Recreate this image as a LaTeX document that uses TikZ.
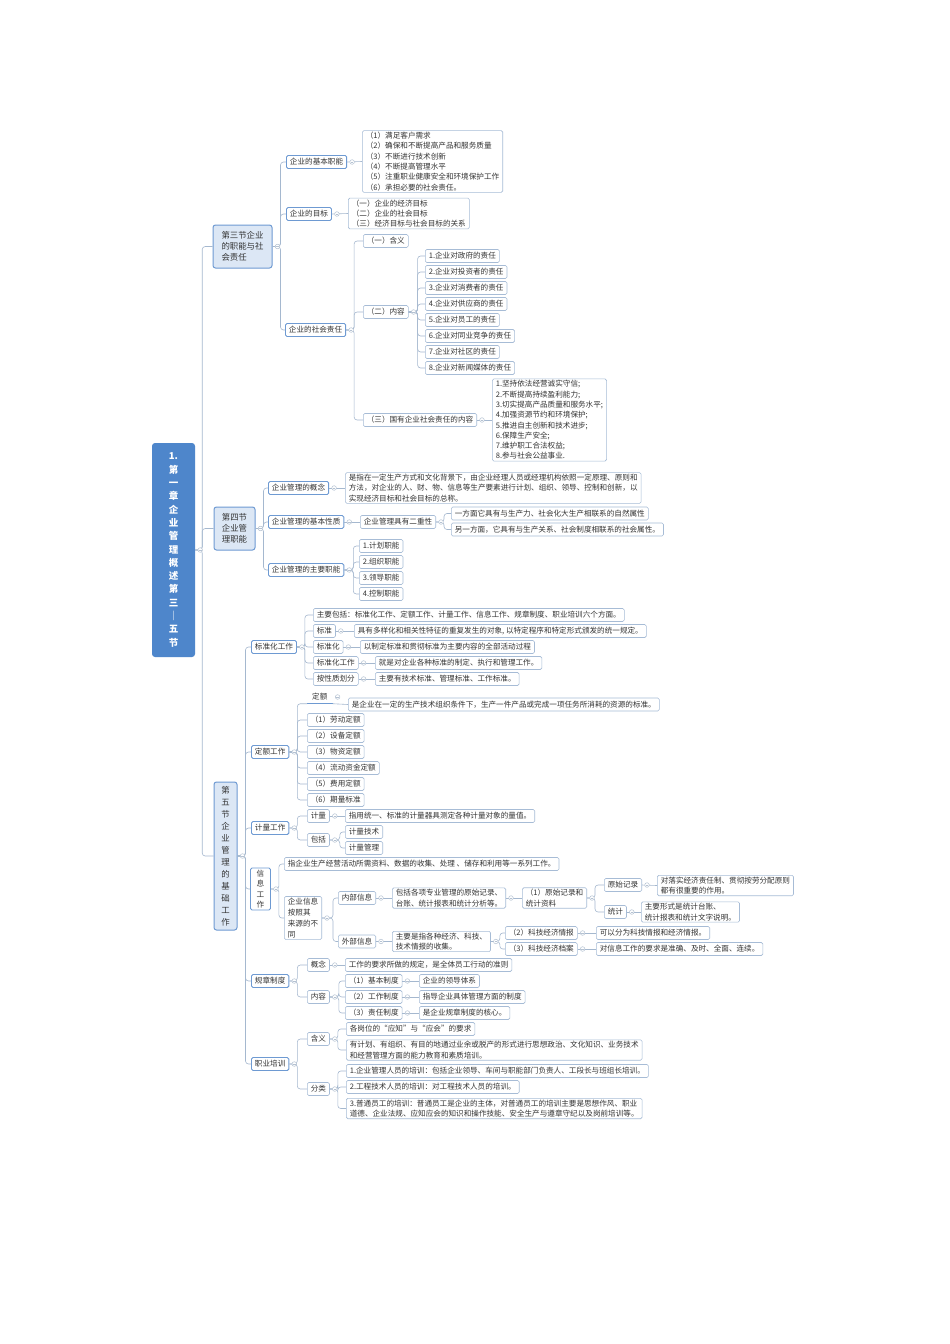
\documentclass[tikz,border=0pt]{standalone}
\usepackage{fontspec}
\setmainfont{Noto Sans CJK SC}
\usetikzlibrary{calc}
\definecolor{txt}{HTML}{333333}
\definecolor{leafc}{HTML}{A7BCD6}
\definecolor{midc}{HTML}{6E9AD2}
\definecolor{secfill}{HTML}{DCE7F5}
\definecolor{rootc}{HTML}{4E86CB}
\definecolor{connc}{HTML}{A5B8CF}
\definecolor{foldcol}{HTML}{B5C2D2}
\newcommand\fold[1]{\draw[foldc] ($(#1.east)+(5,0)$) circle (2.3);\draw[foldc] ($(#1.east)+(3.7,0)$) -- ++(2.6,0);}
\newcommand\kids[3]{\foreach \ch in {#3}{\draw[conn] (#1.east) -- ++(#2,0) |- (\ch.west);}\fold{#1}}
\newcommand\lnk[2]{\draw[conn] (#1.east) -- (#2.west);\fold{#1}}
\begin{document}
\begin{tikzpicture}[x=1pt,y=-1pt,
  font=\fontsize{7.6}{10.3}\selectfont,
  box/.style={draw=leafc, line width=0.6pt, fill=white, rounded corners=1.5pt, inner xsep=3.5pt, inner ysep=1.5pt, minimum height=13pt, align=left, text=txt, anchor=west},
  mid/.style={box, draw=midc, line width=0.9pt},
  sec/.style={draw=midc, fill=secfill, line width=1pt, rounded corners=2.5pt, text=txt, font=\fontsize{8.4}{11.2}\selectfont, inner sep=2pt},
  root/.style={fill=rootc, rounded corners=3pt, text=white, font=\fontsize{9.5}{13.3}\selectfont\bfseries, align=center, minimum width=43pt, minimum height=214pt, inner sep=0pt},
  conn/.style={draw=connc, line width=0.6pt, rounded corners=3pt},
  foldc/.style={draw=foldcol, line width=0.5pt, fill=white}]
\fill[white] (0,0) rectangle (950,1344);
\useasboundingbox (0,0) rectangle (950,1344);

% root
\node[root] (root) at (173.5,550) {1.\\第\\一\\章\\企\\业\\管\\理\\概\\述\\第\\三\\｜\\五\\节};

% sections
\node[sec, minimum width=59pt, minimum height=43pt, align=left] (s3) at (242.5,246.5) {第三节企业\\的职能与社\\会责任};
\node[sec, minimum width=41pt, minimum height=43pt, align=left] (s4) at (234.5,528.5) {第四节\\企业管\\理职能};
\node[sec, minimum width=23pt, minimum height=148pt, align=center, font=\fontsize{8.4}{12}\selectfont] (s5) at (225.5,856) {第\\五\\节\\企\\业\\管\\理\\的\\基\\础\\工\\作};

% ---- section 3
\node[mid] (a1) at (286,162) {企业的基本职能};
\node[mid] (a2) at (286,214) {企业的目标};
\node[mid] (a3) at (285,330) {企业的社会责任};
\node[box] (a1x) at (362,161.5) {（1）满足客户需求\\（2）确保和不断提高产品和服务质量\\（3）不断进行技术创新\\（4）不断提高管理水平\\（5）注重职业健康安全和环境保护工作\\（6）承担必要的社会责任。};
\node[box] (a2x) at (348,213.5) {（一）企业的经济目标\\（二）企业的社会目标\\（三）经济目标与社会目标的关系};
\node[box] (b1) at (363,241) {（一）含义};
\node[box] (b2) at (363,312) {（二）内容};
\node[box] (b3) at (363,420) {（三）国有企业社会责任的内容};
\node[box] (c1) at (425,256) {1.企业对政府的责任};
\node[box] (c2) at (425,272) {2.企业对投资者的责任};
\node[box] (c3) at (425,288) {3.企业对消费者的责任};
\node[box] (c4) at (425,304) {4.企业对供应商的责任};
\node[box] (c5) at (425,320) {5.企业对员工的责任};
\node[box] (c6) at (425,336) {6.企业对同业竞争的责任};
\node[box] (c7) at (425,352) {7.企业对社区的责任};
\node[box] (c8) at (425,368) {8.企业对新闻媒体的责任};
\node[box] (b3x) at (492,420) {1.坚持依法经营诚实守信;\\2.不断提高持续盈利能力;\\3.切实提高产品质量和服务水平;\\4.加强资源节约和环境保护;\\5.推进自主创新和技术进步;\\6.保障生产安全;\\7.维护职工合法权益;\\8.参与社会公益事业.};

% ---- section 4
\node[mid] (d1) at (268,488) {企业管理的概念};
\node[mid] (d2) at (268,522) {企业管理的基本性质};
\node[mid] (d3) at (268,570) {企业管理的主要职能};
\node[box] (d1x) at (345,488) {是指在一定生产方式和文化背景下，由企业经理人员或经理机构依照一定原理、原则和\\方法，对企业的人、财、物、信息等生产要素进行计划、组织、领导、控制和创新，以\\实现经济目标和社会目标的总称。};
\node[box] (d2x) at (360,522) {企业管理具有二重性};
\node[box] (e1) at (451,513.5) {一方面它具有与生产力、社会化大生产相联系的自然属性};
\node[box] (e2) at (451,529.5) {另一方面，它具有与生产关系、社会制度相联系的社会属性。};
\node[box] (f1) at (359,546) {1.计划职能};
\node[box] (f2) at (359,562) {2.组织职能};
\node[box] (f3) at (359,578) {3.领导职能};
\node[box] (f4) at (359,594) {4.控制职能};

% ---- section 5
\node[mid] (g1) at (251,647) {标准化工作};
\node[mid] (g2) at (251,752) {定额工作};
\node[mid] (g3) at (251,828) {计量工作};
\node[mid, align=center, minimum width=20pt, minimum height=42pt, inner xsep=1pt, font=\fontsize{7.6}{10.5}\selectfont] (g4) at (250,889) {信\\息\\工\\作};
\node[mid] (g5) at (251,981) {规章制度};
\node[mid] (g6) at (251,1064) {职业培训};

% standardisation
\node[box] (h1) at (313,615) {主要包括：标准化工作、定额工作、计量工作、信息工作、规章制度、职业培训六个方面。};
\node[box] (h2) at (313,631) {标准};
\node[box] (h3) at (313,647) {标准化};
\node[box] (h4) at (313,663) {标准化工作};
\node[box] (h5) at (313,679) {按性质划分};
\node[box] (h2x) at (354,631) {具有多样化和相关性特征的重复发生的对象, 以特定程序和特定形式颁发的统一规定。};
\node[box] (h3x) at (360,647) {以制定标准和贯彻标准为主要内容的全部活动过程};
\node[box] (h4x) at (375,663) {就是对企业各种标准的制定、执行和管理工作。};
\node[box] (h5x) at (375,679) {主要有技术标准、管理标准、工作标准。};

% quota
\node[anchor=west, text=txt, inner xsep=5pt, inner ysep=1.5pt, minimum height=13pt] (i0) at (307,697) {定额};
\draw[midc, line width=1.2pt] (i0.south west) -- (i0.south east);
\node[box] (i0x) at (348,704.5) {是企业在一定的生产技术组织条件下，生产一件产品或完成一项任务所消耗的资源的标准。};
\node[box] (i1) at (307,720) {（1）劳动定额};
\node[box] (i2) at (307,736) {（2）设备定额};
\node[box] (i3) at (307,752) {（3）物资定额};
\node[box] (i4) at (307,768) {（4）流动资金定额};
\node[box] (i5) at (307,784) {（5）费用定额};
\node[box] (i6) at (307,800) {（6）期量标准};

% metering
\node[box] (j1) at (307,816) {计量};
\node[box] (j2) at (307,840) {包括};
\node[box] (j1x) at (345,816) {指用统一、标准的计量器具测定各种计量对象的量值。};
\node[box] (j2a) at (345,832) {计量技术};
\node[box] (j2b) at (345,848) {计量管理};

% information
\node[box] (k1) at (284,864) {指企业生产经营活动所需资料、数据的收集、处理 、储存和利用等一系列工作。};
\node[box, minimum width=36pt, font=\fontsize{7.6}{11}\selectfont] (k2) at (284,918) {企业信息\\按照其\\来源的不\\同};
\node[box] (l1) at (338,898) {内部信息};
\node[box] (l2) at (338,941.5) {外部信息};
\node[box] (l1x) at (392,898) {包括各项专业管理的原始记录、\\台账、统计报表和统计分析等。};
\node[box] (l1y) at (522,898) {（1）原始记录和\\统计资料};
\node[box] (m1) at (604,885) {原始记录};
\node[box] (m2) at (604,912) {统计};
\node[box] (m1x) at (657,885.5) {对落实经济责任制、贯彻按劳分配原则\\都有很重要的作用。};
\node[box] (m2x) at (641,912) {主要形式是统计台账、\\统计报表和统计文字说明。};
\node[box] (l2x) at (392,941.5) {主要是指各种经济、科技、\\技术情报的收集。};
\node[box] (n1) at (505,933) {（2）科技经济情报};
\node[box] (n2) at (505,949) {（3）科技经济档案};
\node[box] (n1x) at (596,933) {可以分为科技情报和经济情报。};
\node[box] (n2x) at (596,949) {对信息工作的要求是准确、及时、全面、连续。};

% rules
\node[box] (o1) at (307,965) {概念};
\node[box] (o2) at (307,997) {内容};
\node[box] (o1x) at (345,965) {工作的要求所做的规定，是全体员工行动的准则};
\node[box] (p1) at (345,981) {（1）基本制度};
\node[box] (p2) at (345,997) {（2）工作制度};
\node[box] (p3) at (345,1013) {（3）责任制度};
\node[box] (p1x) at (419,981) {企业的领导体系};
\node[box] (p2x) at (419,997) {指导企业具体管理方面的制度};
\node[box] (p3x) at (419,1013) {是企业规章制度的核心。};

% training
\node[box] (q1) at (307,1039) {含义};
\node[box] (q2) at (307,1089) {分类};
\node[box] (q1a) at (346,1029) {各岗位的“应知”与“应会”的要求};
\node[box] (q1b) at (346,1050) {有计划、有组织、有目的地通过业余或脱产的形式进行思想政治、文化知识、业务技术\\和经营管理方面的能力教育和素质培训。};
\node[box] (r1) at (346,1071) {1.企业管理人员的培训：包括企业领导、车间与职能部门负责人、工段长与班组长培训。};
\node[box] (r2) at (346,1087) {2.工程技术人员的培训：对工程技术人员的培训。};
\node[box] (r3) at (346,1108.5) {3.普通员工的培训：普通员工是企业的主体，对普通员工的培训主要是思想作风、职业\\道德、企业法规、应知应会的知识和操作技能、安全生产与遵章守纪以及岗前培训等。};

% ---- connectors
\kids{root}{7}{s3,s4,s5}
\kids{s3}{8}{a1,a2,a3}
\lnk{a1}{a1x}
\lnk{a2}{a2x}
\kids{a3}{8}{b1,b2,b3}
\kids{b2}{9}{c1,c2,c3,c4,c5,c6,c7,c8}
\lnk{b3}{b3x}
\kids{s4}{8}{d1,d2,d3}
\lnk{d1}{d1x}
\lnk{d2}{d2x}
\kids{d2x}{8}{e1,e2}
\kids{d3}{9}{f1,f2,f3,f4}
\kids{s5}{8}{g1,g2,g3,g4,g5,g6}
\kids{g1}{8}{h1,h2,h3,h4,h5}
\lnk{h2}{h2x}
\lnk{h3}{h3x}
\lnk{h4}{h4x}
\lnk{h5}{h5x}
\foreach \ch in {i1,i2,i3,i4,i5,i6}{\draw[conn] (g2.east) -- ++(8,0) |- (\ch.west);}
\draw[conn] (g2.east) -- ++(8,0) |- (i0.south west);
\fold{g2}
\draw[conn] (i0.south east) -- (i0x.west);
\fold{i0}
\kids{g3}{8}{j1,j2}
\lnk{j1}{j1x}
\kids{j2}{10}{j2a,j2b}
\kids{g4}{8}{k1,k2}
\kids{k2}{11}{l1,l2}
\lnk{l1}{l1x}
\lnk{l1x}{l1y}
\kids{l1y}{8}{m1,m2}
\lnk{m1}{m1x}
\lnk{m2}{m2x}
\lnk{l2}{l2x}
\kids{l2x}{9}{n1,n2}
\lnk{n1}{n1x}
\lnk{n2}{n2x}
\kids{g5}{8}{o1,o2}
\lnk{o1}{o1x}
\kids{o2}{9}{p1,p2,p3}
\lnk{p1}{p1x}
\lnk{p2}{p2x}
\lnk{p3}{p3x}
\kids{g6}{8}{q1,q2}
\kids{q1}{8}{q1a,q1b}
\kids{q2}{8}{r1,r2,r3}
\end{tikzpicture}
\end{document}
